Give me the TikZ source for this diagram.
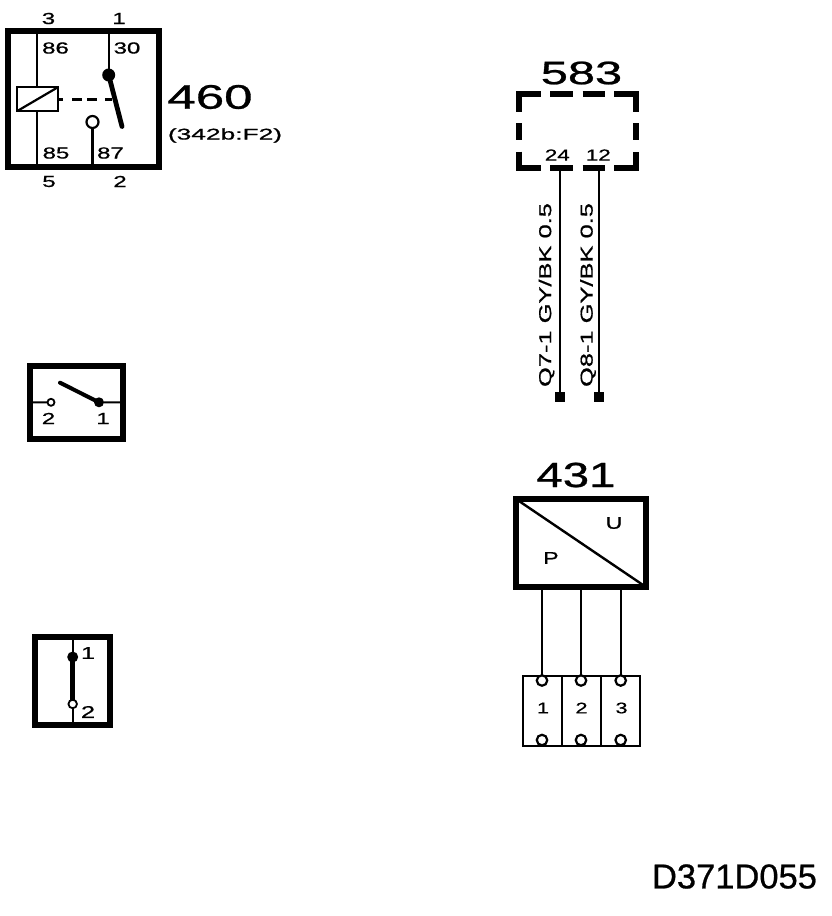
\documentclass[tikz,border=0pt]{standalone}
\usepackage{graphicx}
\usepackage{fontspec}
\setmainfont{Liberation Sans}[FakeBold=0.7]
\newcommand{\wtxt}[3]{{\fontsize{#1}{#1}\selectfont\scalebox{#2}[1]{#3}}}
\tikzset{
  lab/.style={inner sep=0pt,outer sep=0pt,text=black},
  frame/.style={draw=black,line width=6pt,miter limit=10},
  wire/.style={draw=black,line width=2.2pt},
  thin wire/.style={draw=black,line width=2pt},
  blade/.style={draw=black,line width=4.8pt},
  opencontact/.style={circle,draw=black,fill=white,line width=2.2pt,inner sep=0pt,outer sep=0pt},
  solidcontact/.style={circle,fill=black,inner sep=0pt,outer sep=0pt},
  term/.style={rectangle,fill=black,minimum size=10pt,inner sep=0pt,outer sep=0pt},
  dashseg/.style={draw=black,line width=6pt}
}
\begin{document}
\begin{tikzpicture}[x=1pt,y=-1pt]
\useasboundingbox (0,0) rectangle (832,916);
% ---- relay 460
\node[frame,minimum width=150.5pt,minimum height=136pt,inner sep=0pt,outer sep=0pt] (relay) at (83.25,99) {};
\coordinate (t86) at (36.7,31);
\coordinate (b85) at (36.7,167);
\coordinate (t30) at (108.7,31);
\coordinate (b87) at (92.5,167);
\node[draw=black,line width=2.2pt,fill=white,minimum width=41pt,minimum height=24pt,inner sep=0pt,outer sep=0pt] (coil) at (37.8,99) {};
\draw[wire] (t86) -- (coil.north -| t86);
\draw[wire] (coil.south -| b85) -- (b85);
\draw[wire] (coil.south west) -- (coil.north east);
\node[solidcontact,minimum size=13pt] (pivot) at (108.7,75) {};
\node[opencontact,minimum size=12pt] (c87) at (92.5,122) {};
\coordinate (bladeend) at (122,126.5);
\draw[wire] (t30) -- (pivot);
\draw[wire] (c87) -- (b87);
\draw[blade,line cap=round] (pivot.center) -- (bladeend);
\coordinate (dashend) at (112,99);
\draw[draw=black,line width=3pt,dash pattern=on 5pt off 9pt on 10pt off 5pt on 10pt off 8pt on 7pt off 10pt] (coil.east) -- (dashend);
\node[lab] (n86) at (55.5,48) {\wtxt{16}{1.5}{86}};
\node[lab] (n30) at (127,48) {\wtxt{16}{1.5}{30}};
\node[lab] (n85) at (56,153) {\wtxt{16}{1.5}{85}};
\node[lab] (n87) at (110.5,153) {\wtxt{16}{1.5}{87}};
\node[lab] (p3) at (48.5,18.5) {\wtxt{16}{1.5}{3}};
\node[lab] (p1) at (119,18.5) {\wtxt{16}{1.5}{1}};
\node[lab] (p5) at (49,181.5) {\wtxt{16}{1.5}{5}};
\node[lab] (p2) at (120,181.5) {\wtxt{16}{1.5}{2}};
\node[lab] (n460) at (210,97) {\wtxt{34}{1.5}{460}};
\node[lab] (n342) at (225,135.5) {\wtxt{15.5}{1.7}{(342b:F2)}};
% ---- switch 1
\node[frame,minimum width=92.5pt,minimum height=73pt,inner sep=0pt,outer sep=0pt] (sw1) at (76.25,402.5) {};
\node[opencontact,minimum size=7pt,line width=1.8pt] (s2) at (51,402.3) {};
\node[solidcontact,minimum size=10pt] (s1) at (99,402.3) {};
\coordinate (s1tip) at (60,382.7);
\draw[thin wire] (sw1.west) -- (s2);
\draw[thin wire] (s1) -- (sw1.east);
\draw[draw=black,line width=4pt,line cap=round] (s1.center) -- (s1tip);
\node[lab] (s2t) at (48.5,418.5) {\wtxt{16}{1.5}{2}};
\node[lab] (s1t) at (103,418.5) {\wtxt{16}{1.5}{1}};
% ---- switch 2
\node[frame,minimum width=75pt,minimum height=88pt,inner sep=0pt,outer sep=0pt] (sw2) at (72.5,681) {};
\node[solidcontact,minimum size=11pt] (v1) at (72.7,657) {};
\node[opencontact,minimum size=8.5pt,line width=1.8pt] (v2) at (72.7,704) {};
\draw[thin wire] (sw2.north -| v1) -- (v1);
\draw[thin wire] (v2) -- (sw2.south -| v2);
\draw[draw=black,line width=4.5pt] (v1.center) -- (v2.north);
\node[lab] (v1t) at (88,653) {\wtxt{17}{1.5}{1}};
\node[lab] (v2t) at (88,712) {\wtxt{17}{1.5}{2}};
% ---- 583
\node[lab] (n583) at (581.5,73) {\wtxt{32.5}{1.5}{583}};
\draw[dashseg] (518.5,111.7) -- (518.5,94) -- (540.7,94);
\draw[dashseg] (550,94) -- (572.7,94);
\draw[dashseg] (582.7,94) -- (605,94);
\draw[dashseg] (614,94) -- (635.5,94) -- (635.5,111.7);
\draw[dashseg] (518.5,123) -- (518.5,140);
\draw[dashseg] (635.5,123) -- (635.5,140);
\draw[dashseg] (518.5,151.7) -- (518.5,167.5) -- (540.7,167.5);
\draw[dashseg] (550,167.5) -- (572.7,167.5);
\draw[dashseg] (582.7,167.5) -- (605,167.5);
\draw[dashseg] (614,167.5) -- (635.5,167.5) -- (635.5,151.7);
\node[lab] (n24) at (557.3,155) {\wtxt{16}{1.4}{24}};
\node[lab] (n12) at (598.3,155) {\wtxt{16}{1.4}{12}};
\coordinate (w1) at (560,168);
\coordinate (w2) at (599,168);
\node[term] (t1) at (560,397) {};
\node[term] (t2) at (599,397) {};
\draw[draw=black,line width=2.6pt] (w1) -- (t1);
\draw[draw=black,line width=2.6pt] (w2) -- (t2);
\node[lab,rotate=90] (l1) at (546.5,295) {\wtxt{17.2}{1.48}{Q7-1 GY/BK 0.5}};
\node[lab,rotate=90] (l2) at (588,295) {\wtxt{17.2}{1.48}{Q8-1 GY/BK 0.5}};
% ---- 431
\node[lab] (n431) at (576,475) {\wtxt{35}{1.35}{431}};
\node[frame,minimum width=130pt,minimum height=88pt,inner sep=0pt,outer sep=0pt] (tr) at (581,543) {};
\draw[draw=black,line width=2.4pt] (tr.north west) -- (tr.south east);
\node[lab] (U) at (614,523) {\wtxt{17}{1.35}{U}};
\node[lab] (P) at (551,558) {\wtxt{17}{1.35}{P}};
\node[draw=black,line width=2pt,fill=white,minimum width=117pt,minimum height=70pt,inner sep=0pt,outer sep=0pt] (conn) at (581,710.5) {};
\coordinate (d1) at (561.7,675.5);
\coordinate (d2) at (601,675.5);
\draw[draw=black,line width=2.2pt] (d1) -- (d1 |- conn.south);
\draw[draw=black,line width=2.2pt] (d2) -- (d2 |- conn.south);
\foreach \n/\x in {a/542,b/581,c/620.7}{
  \node[opencontact,minimum size=10.5pt] (top\n) at (\x,680.5) {};
  \node[opencontact,minimum size=10.5pt] (bot\n) at (\x,740) {};
  \draw[wire] (tr.south -| top\n) -- (top\n);
}
\node[lab] (c1) at (543,708) {\wtxt{15.5}{1.4}{1}};
\node[lab] (c2) at (581.5,708) {\wtxt{15.5}{1.4}{2}};
\node[lab] (c3) at (621.5,708) {\wtxt{15.5}{1.4}{3}};
% ---- id
\node[lab] (id) at (734.5,876.5) {\wtxt{34.5}{1}{D371D055}};
\end{tikzpicture}
\end{document}
